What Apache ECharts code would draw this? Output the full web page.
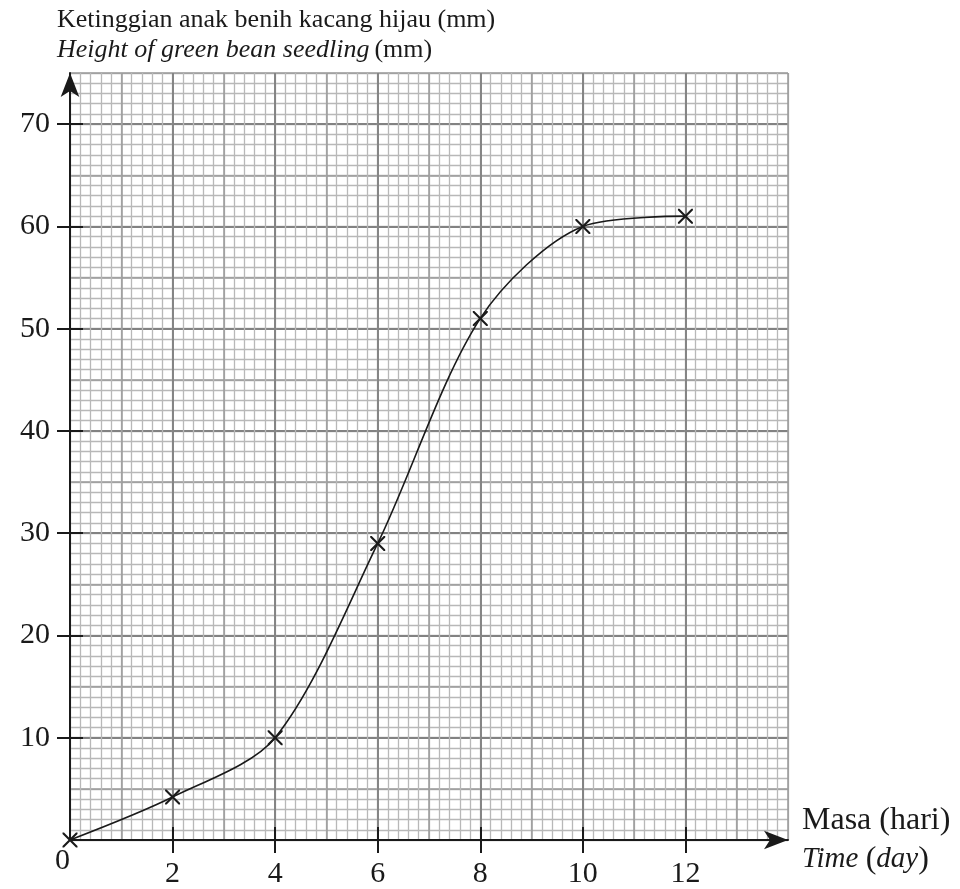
<!DOCTYPE html>
<html>
<head>
<meta charset="utf-8">
<script src="https://cdn.jsdelivr.net/npm/echarts@6/dist/echarts.min.js"></script>
<style>
  html, body { margin: 0; padding: 0; background: #fff; }
  #chart { width: 960px; height: 889px; }
</style>
</head>
<body>
<div id="chart"></div>
<script>
// data
var days = [0, 2, 4, 6, 8, 10, 12]
var heights = [0, 4.2, 10, 29, 51, 60, 61]
var dayTicks = [2, 4, 6, 8, 10, 12]
var heightTicks = [10, 20, 30, 40, 50, 60, 70]

var serif = 'Liberation Serif'
var ink = '#1a1a1a'

// grid paper lines: minor, medium, major
var paper = function (interval, color, width) {
    return {
        type: 'value', interval: interval,
        axisLine: { show: false }, axisTick: { show: false }, axisLabel: { show: false },
        splitLine: { show: true, lineStyle: { color: color, width: width } }
    }
}

var xMinor = Object.assign(paper(0.2, '#b8b8b8', 1.3), { min: 0, max: 14, position: 'bottom' })
var xMid = Object.assign(paper(1, '#9a9a9a', 1.5), { min: 0, max: 14, position: 'bottom' })
var yMinor = Object.assign(paper(1, '#b8b8b8', 1.3), { min: 0, max: 75, position: 'left' })
var yMid = Object.assign(paper(5, '#9a9a9a', 1.5), { min: 0, max: 75, position: 'left' })

var option = {
    animation: false,
    backgroundColor: '#fff',
    title: {
        left: 52, top: 0,
        text: '{a|Ketinggian anak benih kacang hijau (mm)}\n{i|Height of green bean seedling} {a|(mm)}',
        textStyle: {
            fontWeight: 'normal',
            rich: {
                a: { fontFamily: serif, fontSize: 26, fontWeight: 'normal', color: ink, lineHeight: 30 },
                i: { fontFamily: serif, fontSize: 26, fontWeight: 'normal', color: ink, fontStyle: 'italic', lineHeight: 30 }
            }
        }
    },
    grid: { left: 70, right: 172, top: 73, bottom: 46 },
    xAxis: [
        xMinor,
        xMid,
        {
            type: 'value', min: 0, max: 14, interval: 2, position: 'bottom',
            name: '{a|Masa (hari)}\n{i|Time }{a|(}{i|day}{a|)}',
            nameLocation: 'end', nameGap: 14,
            nameTextStyle: {
                align: 'left',
                rich: {
                    a: { fontFamily: serif, fontSize: 32, color: ink, lineHeight: 39 },
                    i: { fontFamily: serif, fontSize: 29, color: ink, fontStyle: 'italic', lineHeight: 39 }
                }
            },
            axisLine: {
                onZero: false, symbol: ['none', 'arrow'], symbolSize: [14, 24],
                lineStyle: { color: ink, width: 2 }
            },
            axisTick: { show: true, length: 13, customValues: dayTicks, lineStyle: { color: ink, width: 2 } },
            axisLabel: { customValues: dayTicks, margin: 19, fontFamily: serif, fontSize: 30, color: ink },
            splitLine: { show: true, lineStyle: { color: '#828282', width: 1.8 } }
        },
        {
            type: 'value', min: 0, max: 14, interval: 2, position: 'bottom',
            axisLine: { show: false },
            axisTick: { show: true, inside: true, length: 13, customValues: dayTicks, lineStyle: { color: ink, width: 2 } },
            axisLabel: { show: false }, splitLine: { show: false }
        }
    ],
    yAxis: [
        yMinor,
        yMid,
        {
            type: 'value', min: 0, max: 75, interval: 10, position: 'left',
            axisLine: {
                show: true, onZero: false, symbol: ['none', 'arrow'], symbolSize: [14, 24],
                lineStyle: { color: ink, width: 2 }
            },
            axisTick: { show: true, length: 13, customValues: heightTicks, lineStyle: { color: ink, width: 2 } },
            axisLabel: { customValues: heightTicks, margin: 20, fontFamily: serif, fontSize: 30, color: ink },
            splitLine: { show: true, lineStyle: { color: '#828282', width: 1.8 } }
        },
        {
            type: 'value', min: 0, max: 75, interval: 10, position: 'left',
            axisLine: { show: false },
            axisTick: { show: true, inside: true, length: 13, customValues: heightTicks, lineStyle: { color: ink, width: 2 } },
            axisLabel: { show: false }, splitLine: { show: false }
        }
    ],
    graphic: [
        { type: 'text', left: 55, top: 846, style: { text: '0', font: '30px ' + serif, fill: ink } }
    ],
    series: [
        {
            type: 'line',
            xAxisIndex: 2, yAxisIndex: 2,
            data: days.map(function (d, i) { return [d, heights[i]] }),
            smooth: 0.3,
            symbol: 'path://M0,0L2,0L10,8L18,0L20,0L20,2L12,10L20,18L20,20L18,20L10,12L2,20L0,20L0,18L8,10L0,2Z',
            symbolSize: 15,
            itemStyle: { color: ink },
            lineStyle: { color: ink, width: 1.6 },
            z: 5
        }
    ]
}

var mychart = echarts.init(document.getElementById('chart'))
mychart.setOption(option)
</script>
</body>
</html>
